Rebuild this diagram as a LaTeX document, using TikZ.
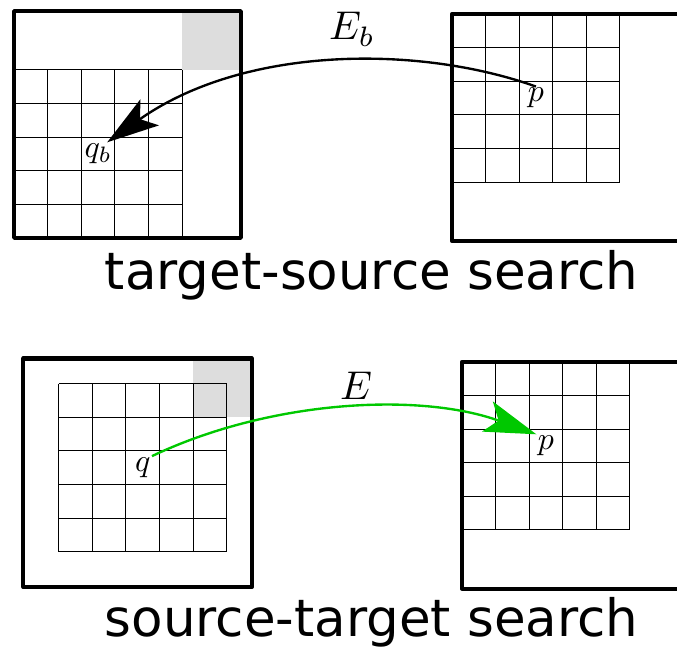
\documentclass[tikz,border=0pt]{standalone}
\usepackage{fontspec}
\setsansfont{DejaVu Sans}
\usetikzlibrary{positioning, arrows.meta, calc}

\definecolor{shadegray}{RGB}{221,221,221}
\definecolor{matchgreen}{RGB}{0,200,0}

\begin{document}
\begin{tikzpicture}[
    frame/.style={
        draw=black,
        line width=3.4pt,
        line join=round
    },
    gridline/.style={
        draw=black,
        line width=0.8pt
    },
    shade/.style={
        fill=shadegray
    },
    pt_label/.style={
        scale=2.7,
        transform shape,
        inner sep=0.3pt
    },
    edge_label/.style={
        scale=3.4,
        transform shape,
        anchor=base
    },
    title_text/.style={
        font=\fontsize{43.6}{50}\selectfont\sffamily,
        anchor=base
    },
    link/.style={
        line width=2pt,
        -{Stealth[length=44pt, width=27pt, inset=10pt]}
    }
]
    \useasboundingbox (0,0) rectangle (20.15,-19.375);

    % -- Top: target-source search --
    \begin{scope}[shift={(0.42,-7.08)}]
        \fill[shade] (5,5) rectangle (6.75,6.75);
        \draw[gridline] (0,0) grid (5,5);
        \draw[frame] (0,0) rectangle (6.75,6.75);
        \node[pt_label] (qb) at (2.5,2.5) {$q_b$};
    \end{scope}

    \begin{scope}[shift={(13.45,-5.42)}]
        \draw[gridline] (0,0) grid (5,5);
        \draw[frame] (0,-1.75) rectangle (6.75,5);
        \node[pt_label] (p_top) at (2.5,2.5) {$p$};
    \end{scope}

    \node[edge_label] (eb) at (10.48,-1.19) {$E_b$};
    \node[title_text] (title_top) at (11.06,-8.63) {target-source search};

    % backward match
    \draw[link] (p_top.north) .. controls (12.5,-1.34) and (7.29,-1.34) .. ($(qb.north)!0.6!(qb.north east)$);

    % -- Bottom: source-target search --
    \begin{scope}[shift={(1.747,-16.42)}]
        \fill[shade] (4,4) rectangle (5.75,5.75);
        \draw[gridline] (0,0) grid (5,5);
        \draw[frame] (-1.05,-1.05) rectangle (5.75,5.75);
        \node[pt_label] (q) at (2.5,2.5) {$q$};
    \end{scope}

    \begin{scope}[shift={(13.75,-15.77)}]
        \draw[gridline] (0,0) grid (5,5);
        \draw[frame] (0,-1.75) rectangle (6.75,5);
        \node[pt_label] (p_bot) at (2.5,2.5) {$p$};
    \end{scope}

    \node[edge_label] (e) at (10.6,-11.9) {$E$};
    \node[title_text] (title_bot) at (11.06,-18.95) {source-target search};

    % forward match
    \draw[link, matchgreen] (q.north east) .. controls (8.04,-11.9) and (12.5,-11.67) .. (p_bot.north west);

\end{tikzpicture}
\end{document}
